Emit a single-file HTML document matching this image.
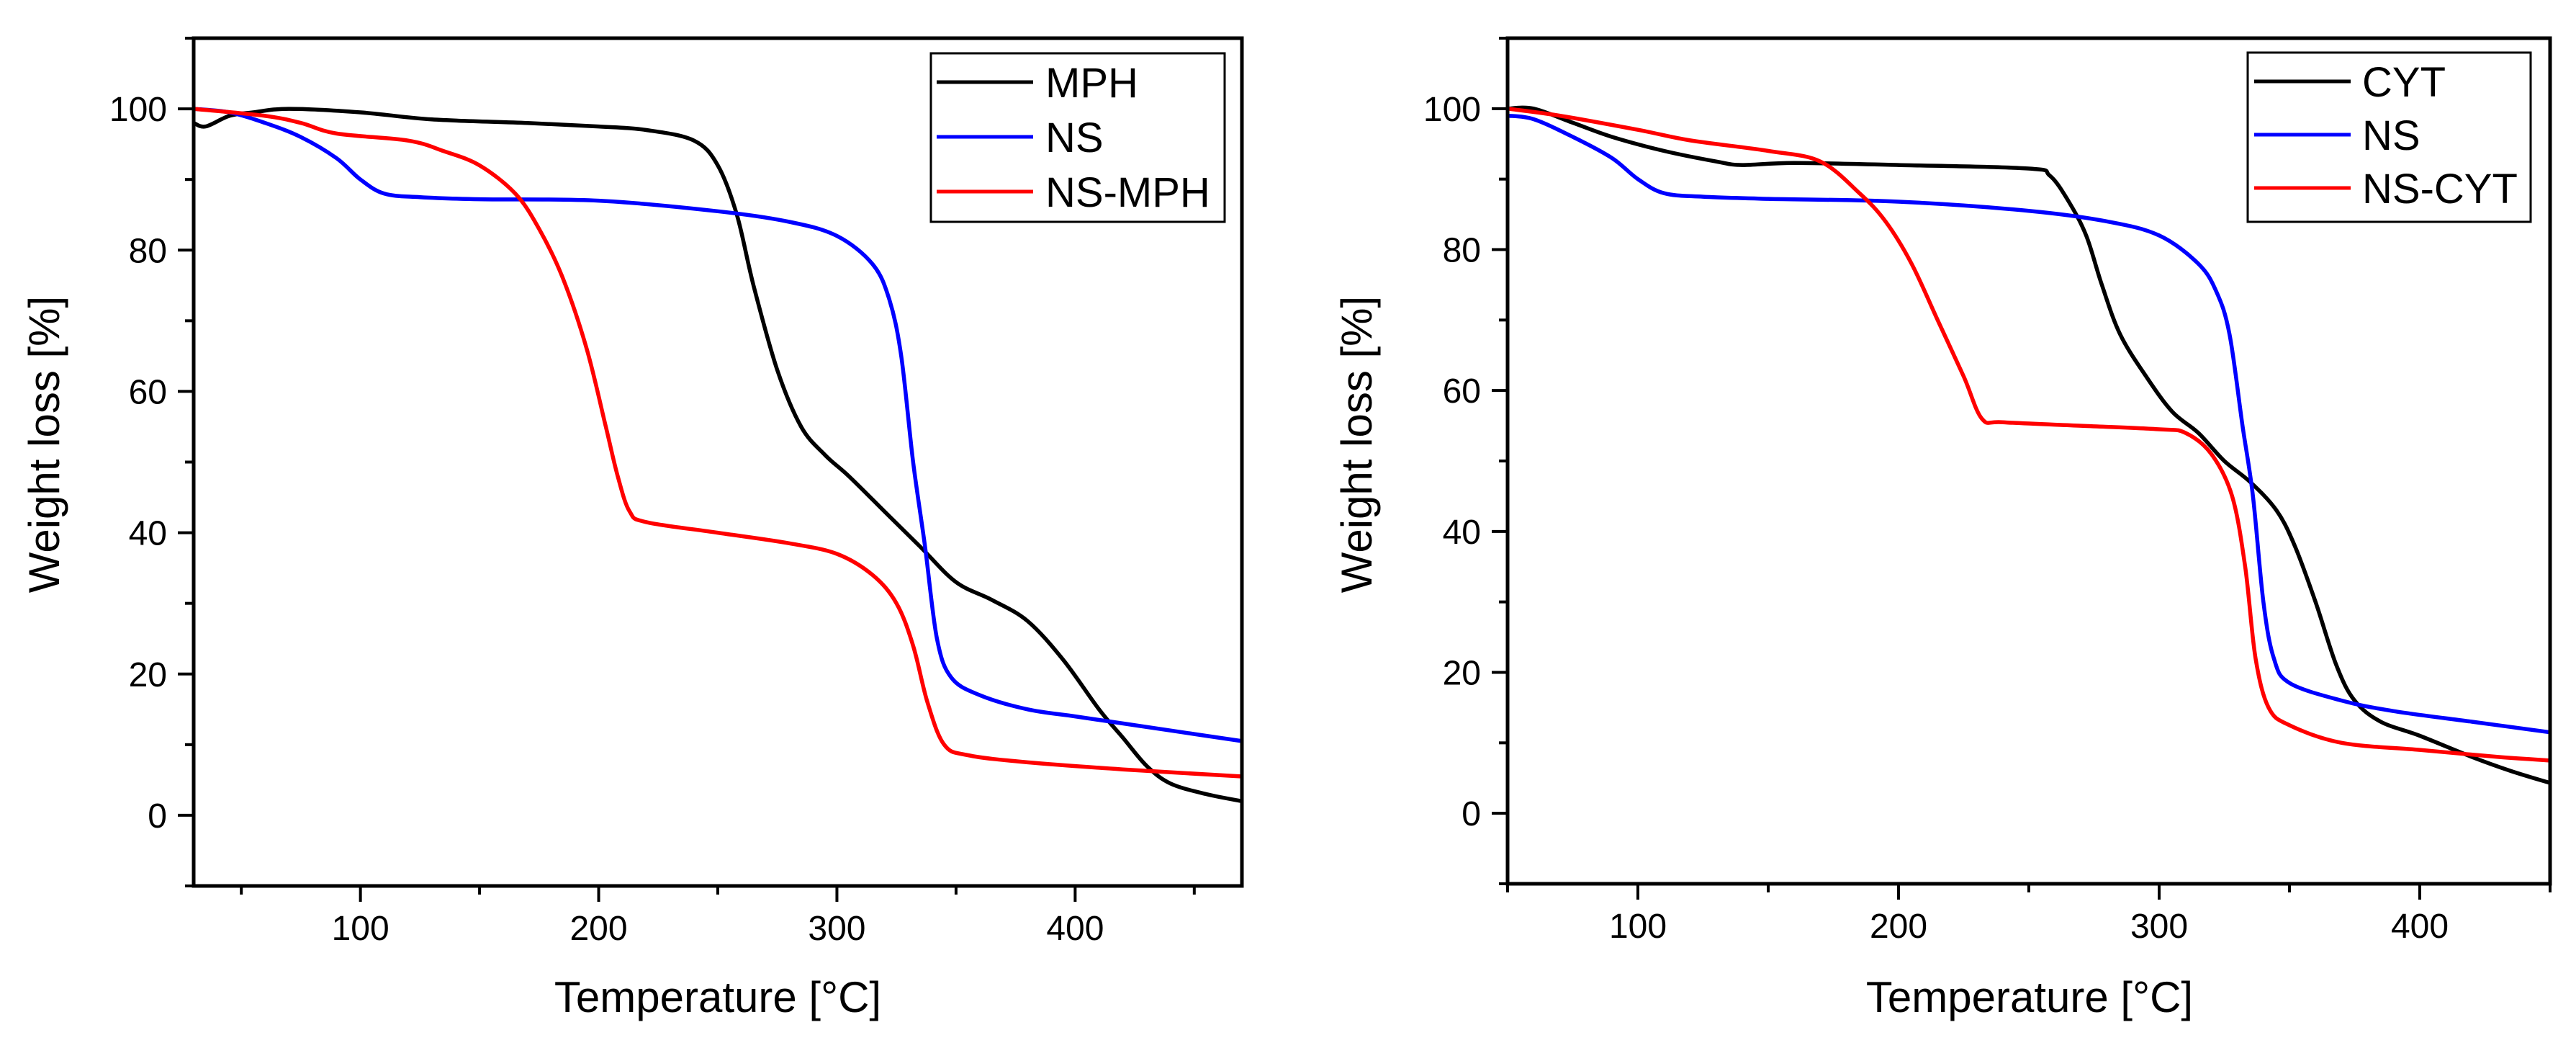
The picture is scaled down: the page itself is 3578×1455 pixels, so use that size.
<!DOCTYPE html>
<html><head><meta charset="utf-8"><style>
html,body{margin:0;padding:0;background:#fff;}
svg{display:block;font-family:"Liberation Sans",Arial,sans-serif;}
</style></head><body>
<svg id="fig" width="3578" height="1455" viewBox="0 0 3578 1455" xmlns="http://www.w3.org/2000/svg"></svg>
<script>
// ---- Left chart data ----
const leftMPH_T = [30,35,45,55,70,100,130,170,200,220,240,250,258,265,275,285,295,305,320,335,350,365,380,395,410,420,430,440,455,470];
const leftMPH_W = [98,97.5,99,99.5,100,99.5,98.5,98,97.5,97,95.5,92,85,75,63,55,51,48,43,38,33,30.5,27.5,22,15,11,7,4.5,3,2];
const leftNS_T = [30,45,60,75,90,100,110,125,150,200,250,280,300,315,322,327,332,337,342,348,360,380,400,420,440,470];
const leftNS_W = [100,99.5,98,96,93,90,88,87.5,87.2,87,85.5,84,82,78,73,65,50,38,25,19.5,17,15,14,13,12,10.5];
const leftNSMPH_T = [30,60,75,90,120,135,150,165,175,185,195,203,208,213,220,250,280,300,315,325,332,338,345,355,380,420,470];
const leftNSMPH_W = [100,99,98,96.5,95.5,94,92,88,83,76,66,55,48,43,41.5,40,38.5,37,34,30,24,16,10,8.5,7.5,6.5,5.5];
// ---- Right chart data ----
const rightCYT_T = [50,60,75,90,110,130,140,160,200,250,258,265,272,278,285,295,305,315,325,335,345,352,360,368,375,385,400,420,435,450];
const rightCYT_W = [100,100,98,96,94,92.5,92,92.3,92,91.5,90.5,87,82,75,68,62,57,54,50,47,43,38,30,21,16,13,11,8,6,4.3];
const rightNS_T = [50,60,75,90,100,110,125,150,200,250,280,300,315,322,327,332,336,340,344,350,370,390,420,450];
const rightNS_W = [99,98.5,96,93,90,88,87.5,87.2,86.8,85.5,84,82,78,74,68,55,45,30,22,18.5,16,14.5,13,11.5];
const rightNSCYT_T = [50,70,100,120,150,170,185,195,205,215,225,232,240,270,300,310,320,328,333,337,342,350,370,400,430,450];
const rightNSCYT_W = [100,99,97,95.5,94,92.5,88,84,78,70,62,56,55.5,55,54.5,54,51,45,35,22,15,12.5,10,9,8,7.5];
// ---- Tick labels ----
const yTickLabels = [0,20,40,60,80,100];
const leftXTickLabels = [100,200,300,400];
const rightXTickLabels = [100,200,300,400];

const NS = "http://www.w3.org/2000/svg";
const svg = document.getElementById('fig');
function mk(tag, attrs, parent){const e=document.createElementNS(NS,tag);for(const k in attrs)e.setAttribute(k,attrs[k]);(parent||svg).appendChild(e);return e;}

function smoothPath(pts){
  let d='M'+pts[0][0].toFixed(1)+','+pts[0][1].toFixed(1);
  for(let i=0;i<pts.length-1;i++){
    const p0=pts[i-1]||pts[i], p1=pts[i], p2=pts[i+1], p3=pts[i+2]||p2;
    const c1=[p1[0]+(p2[0]-p0[0])/6, p1[1]+(p2[1]-p0[1])/6];
    const c2=[p2[0]-(p3[0]-p1[0])/6, p2[1]-(p3[1]-p1[1])/6];
    d+=' C'+c1[0].toFixed(1)+','+c1[1].toFixed(1)+' '+c2[0].toFixed(1)+','+c2[1].toFixed(1)+' '+p2[0].toFixed(1)+','+p2[1].toFixed(1);
  }
  return d;
}

function drawChart(cfg){
  const g = mk('g',{});
  
  
  const xs = v => cfg.x0 + (v - cfg.xmin)/(cfg.xmax-cfg.xmin)*(cfg.x1-cfg.x0);
  const ys = v => cfg.y1 - (v - cfg.ymin)/(cfg.ymax-cfg.ymin)*(cfg.y1-cfg.y0);
  cfg.series.forEach(s=>{
    const pts = s.t.map((t,i)=>[xs(t),ys(s.w[i])]);
    const p = mk('path',{d:smoothPath(pts),fill:'none',stroke:s.color,'stroke-width':5.5,'stroke-linejoin':'round'},g);
    
    
  });
  const fr = mk('rect',{x:cfg.x0,y:cfg.y0,width:cfg.x1-cfg.x0,height:cfg.y1-cfg.y0,fill:'none',stroke:'#000','stroke-width':5},g);
  
  
  for(let v=cfg.ymin; v<=cfg.ymax; v+=10){
    const major = v%20===0;
    mk('line',{x1:cfg.x0-(major?22:12),x2:cfg.x0,y1:ys(v),y2:ys(v),stroke:'#000','stroke-width':4},g);
  }
  yTickLabels.forEach(v=>{
    const t = mk('text',{x:cfg.x0-37,y:ys(v)+17,'text-anchor':'end','font-size':48,fill:'#000'},g);
    t.textContent = v;
    
    
  });
  for(let v=Math.ceil(cfg.xmin/50)*50; v<=cfg.xmax; v+=50){
    const major = v%100===0;
    mk('line',{x1:xs(v),x2:xs(v),y1:cfg.y1,y2:cfg.y1+(major?22:12),stroke:'#000','stroke-width':4},g);
  }
  cfg.xLabels.forEach(v=>{
    const t = mk('text',{x:xs(v),y:cfg.y1+75,'text-anchor':'middle','font-size':48,fill:'#000'},g);
    t.textContent = v;
    
    
  });
  const xt = mk('text',{x:cfg.xTitleX,y:1405,'text-anchor':'middle','font-size':60,fill:'#000'},g);
  xt.textContent = 'Temperature [°C]';
  
  
  const yt = mk('text',{x:0,y:0,'text-anchor':'middle','font-size':60,fill:'#000',transform:`translate(${cfg.yTitleX},617) rotate(-90)`},g);
  yt.textContent = 'Weight loss [%]';
  
  
  const L = cfg.legend;
  const lg = mk('g',{},g);
  
  
  mk('rect',{x:L.x,y:L.y,width:L.w,height:L.h,fill:'#fff',stroke:'#000','stroke-width':3},lg);
  cfg.series.forEach((s,i)=>{
    const cy = L.rows[i];
    mk('line',{x1:L.lx1,x2:L.lx2,y1:cy,y2:cy,stroke:s.color,'stroke-width':5},lg);
    const t = mk('text',{x:L.tx,y:cy+21,'font-size':58,fill:'#000'},lg);
    t.textContent = s.label;
    
    
  });
}

drawChart({name:'chart-mph', x0:269,x1:1725,y0:53,y1:1230, xmin:30,xmax:470, ymin:-10,ymax:110,
  xLabels:leftXTickLabels, xTitleX:997, yTitleX:82,
  legend:{x:1293,y:74,w:408,h:234,rows:[114,190,266],lx1:1301,lx2:1435,tx:1452},
  series:[
    {id:'series-mph',label:'MPH',color:'#000000',t:leftMPH_T,w:leftMPH_W},
    {id:'series-ns',label:'NS',color:'#0000ff',t:leftNS_T,w:leftNS_W},
    {id:'series-ns-mph',label:'NS-MPH',color:'#ff0000',t:leftNSMPH_T,w:leftNSMPH_W}
  ]});
drawChart({name:'chart-cyt', x0:2094,x1:3542,y0:53,y1:1227, xmin:50,xmax:450, ymin:-10,ymax:110,
  xLabels:rightXTickLabels, xTitleX:2819, yTitleX:1905,
  legend:{x:3122,y:73,w:393,h:235,rows:[113,187,261],lx1:3131,lx2:3265,tx:3281},
  series:[
    {id:'series-cyt',label:'CYT',color:'#000000',t:rightCYT_T,w:rightCYT_W},
    {id:'series-ns',label:'NS',color:'#0000ff',t:rightNS_T,w:rightNS_W},
    {id:'series-ns-cyt',label:'NS-CYT',color:'#ff0000',t:rightNSCYT_T,w:rightNSCYT_W}
  ]});
</script>
</body></html>
